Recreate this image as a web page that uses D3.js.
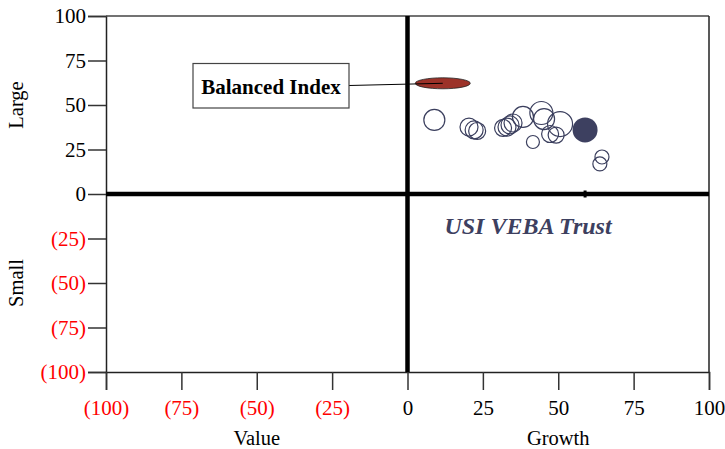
<!DOCTYPE html>
<html>
<head>
<meta charset="utf-8">
<script src="https://cdn.jsdelivr.net/npm/d3@7"></script>
<style>
  body { margin: 0; background: #fff; }
  svg text { font-family: "Liberation Serif", "Times New Roman", serif; }
</style>
</head>
<body>
<div id="chart"></div>
<script>
// style-box values (growth/value on x, large/small on y)
const managerX = [8.9, 20.4, 22.1, 23.1, 31.7, 33.0, 34.0, 35.0, 38.3, 41.6, 44.4, 45.3, 47.3, 49.3, 50.6, 64.5, 63.8];
const managerY = [41.6, 37.6, 36.0, 35.4, 37.1, 37.6, 38.8, 39.9, 43.3, 29.2, 45.5, 42.1, 33.7, 33.1, 39.3, 20.8, 16.9];
const managerW = [10.5, 9, 9, 8.5, 8.5, 9, 9, 9, 10.5, 6.5, 11.5, 10.5, 8.5, 8, 12.5, 7, 7];

const trust = {name: "USI VEBA Trust", x: 58.9, y: 36.0, w: 12.5};
const balanced = {name: "Balanced Index", x: 11.7, y: 62.2};

const ticks = [-100, -75, -50, -25, 0, 25, 50, 75, 100];
const xTitles = [{label: "Value", at: -50}, {label: "Growth", at: 50}];
const yTitles = [{label: "Large", at: 50}, {label: "Small", at: -50}];

const width = 725, height = 449;
const margin = {top: 16, right: 16, bottom: 77, left: 106};

const svg = d3.select("#chart").append("svg")
    .attr("width", width)
    .attr("height", height);

const x = d3.scaleLinear().domain([-100, 100]).range([margin.left, width - margin.right]);
const y = d3.scaleLinear().domain([-100, 100]).range([height - margin.bottom, margin.top]);
const r = d3.scaleLinear().domain([0, 12.5]).range([0, 12.5]);

// labels: negatives shown in parentheses, red
const fmt = d => d < 0 ? "(" + (-d) + ")" : "" + d;
const tickColor = d => d < 0 ? "#ff0000" : "#000";

// left axis
let yAxis = svg.append("g")
    .attr("transform", "translate(" + margin.left + ",0)")
    .call(d3.axisLeft(y).tickValues(ticks).tickFormat(fmt).tickSize(18).tickPadding(2));
yAxis.select(".domain").attr("stroke", "#222").attr("stroke-width", 1.5);
yAxis.selectAll(".tick line").attr("stroke", "#333").attr("stroke-width", 1.5);
yAxis.selectAll(".tick text")
    .attr("font-size", 21)
    .attr("fill", tickColor);

// bottom axis
let xAxis = svg.append("g")
    .attr("transform", "translate(0," + (height - margin.bottom) + ")")
    .call(d3.axisBottom(x).tickValues(ticks).tickFormat(fmt).tickSize(18).tickPadding(10));
xAxis.select(".domain").attr("stroke", "#222").attr("stroke-width", 1.5);
xAxis.selectAll(".tick line").attr("stroke", "#333").attr("stroke-width", 1.5);
xAxis.selectAll(".tick text")
    .attr("font-size", 21)
    .attr("fill", tickColor);

// top and right frame
svg.append("line")
    .attr("x1", x(-100)).attr("x2", x(100))
    .attr("y1", y(100)).attr("y2", y(100))
    .attr("stroke", "#444").attr("stroke-width", 1.5);
svg.append("line")
    .attr("x1", x(100)).attr("x2", x(100))
    .attr("y1", y(100)).attr("y2", y(-100))
    .attr("stroke", "#222").attr("stroke-width", 1.5);

// quadrant lines
svg.append("line")
    .attr("x1", x(-100)).attr("x2", x(100))
    .attr("y1", y(0)).attr("y2", y(0))
    .attr("stroke", "#000").attr("stroke-width", 4.5);
svg.append("line")
    .attr("x1", x(0)).attr("x2", x(0))
    .attr("y1", y(100)).attr("y2", y(-100))
    .attr("stroke", "#000").attr("stroke-width", 4.5);

// axis titles
svg.selectAll("text.xtitle").data(xTitles).enter().append("text")
    .attr("class", "xtitle")
    .attr("x", d => x(d.at))
    .attr("y", 445)
    .attr("text-anchor", "middle")
    .attr("font-size", 20.5)
    .text(d => d.label);

svg.selectAll("text.ytitle").data(yTitles).enter().append("text")
    .attr("class", "ytitle")
    .attr("transform", d => "translate(23," + y(d.at) + ") rotate(-90)")
    .attr("text-anchor", "middle")
    .attr("font-size", 20.5)
    .text(d => d.label);

// manager bubbles
let bubbles = managerX.map((v, i) => ({x: v, y: managerY[i], w: managerW[i]}));
svg.selectAll("circle.manager").data(bubbles).enter().append("circle")
    .attr("class", "manager")
    .attr("cx", d => x(d.x))
    .attr("cy", d => y(d.y))
    .attr("r", d => r(d.w))
    .attr("fill", "none")
    .attr("stroke", "#3b3f5e")
    .attr("stroke-width", 1.2);

// trust bubble and its marker on the zero line
svg.append("circle")
    .attr("cx", x(trust.x))
    .attr("cy", y(trust.y))
    .attr("r", r(trust.w))
    .attr("fill", "#3d4060");
svg.append("rect")
    .attr("x", x(trust.x) - 1.5)
    .attr("y", y(0) - 3.5)
    .attr("width", 3)
    .attr("height", 7)
    .attr("fill", "#000");

svg.append("text")
    .attr("x", 528)
    .attr("y", 234)
    .attr("text-anchor", "middle")
    .attr("font-size", 24)
    .attr("font-weight", "bold")
    .attr("font-style", "italic")
    .attr("fill", "#3d4060")
    .text(trust.name);

// balanced index marker with callout
svg.append("ellipse")
    .attr("cx", x(balanced.x))
    .attr("cy", y(balanced.y))
    .attr("rx", 27.5)
    .attr("ry", 5.5)
    .attr("fill", "#9c3229")
    .attr("stroke", "#222")
    .attr("stroke-width", 0.8);

svg.append("line")
    .attr("x1", 349).attr("y1", 85.5)
    .attr("x2", x(balanced.x)).attr("y2", y(balanced.y))
    .attr("stroke", "#000").attr("stroke-width", 1);

svg.append("rect")
    .attr("x", 193).attr("y", 63.5)
    .attr("width", 156).attr("height", 44.5)
    .attr("fill", "#fff")
    .attr("stroke", "#444")
    .attr("stroke-width", 1.2);

svg.append("text")
    .attr("x", 271)
    .attr("y", 94)
    .attr("text-anchor", "middle")
    .attr("font-size", 21)
    .attr("font-weight", "bold")
    .text(balanced.name);
</script>
</body>
</html>
